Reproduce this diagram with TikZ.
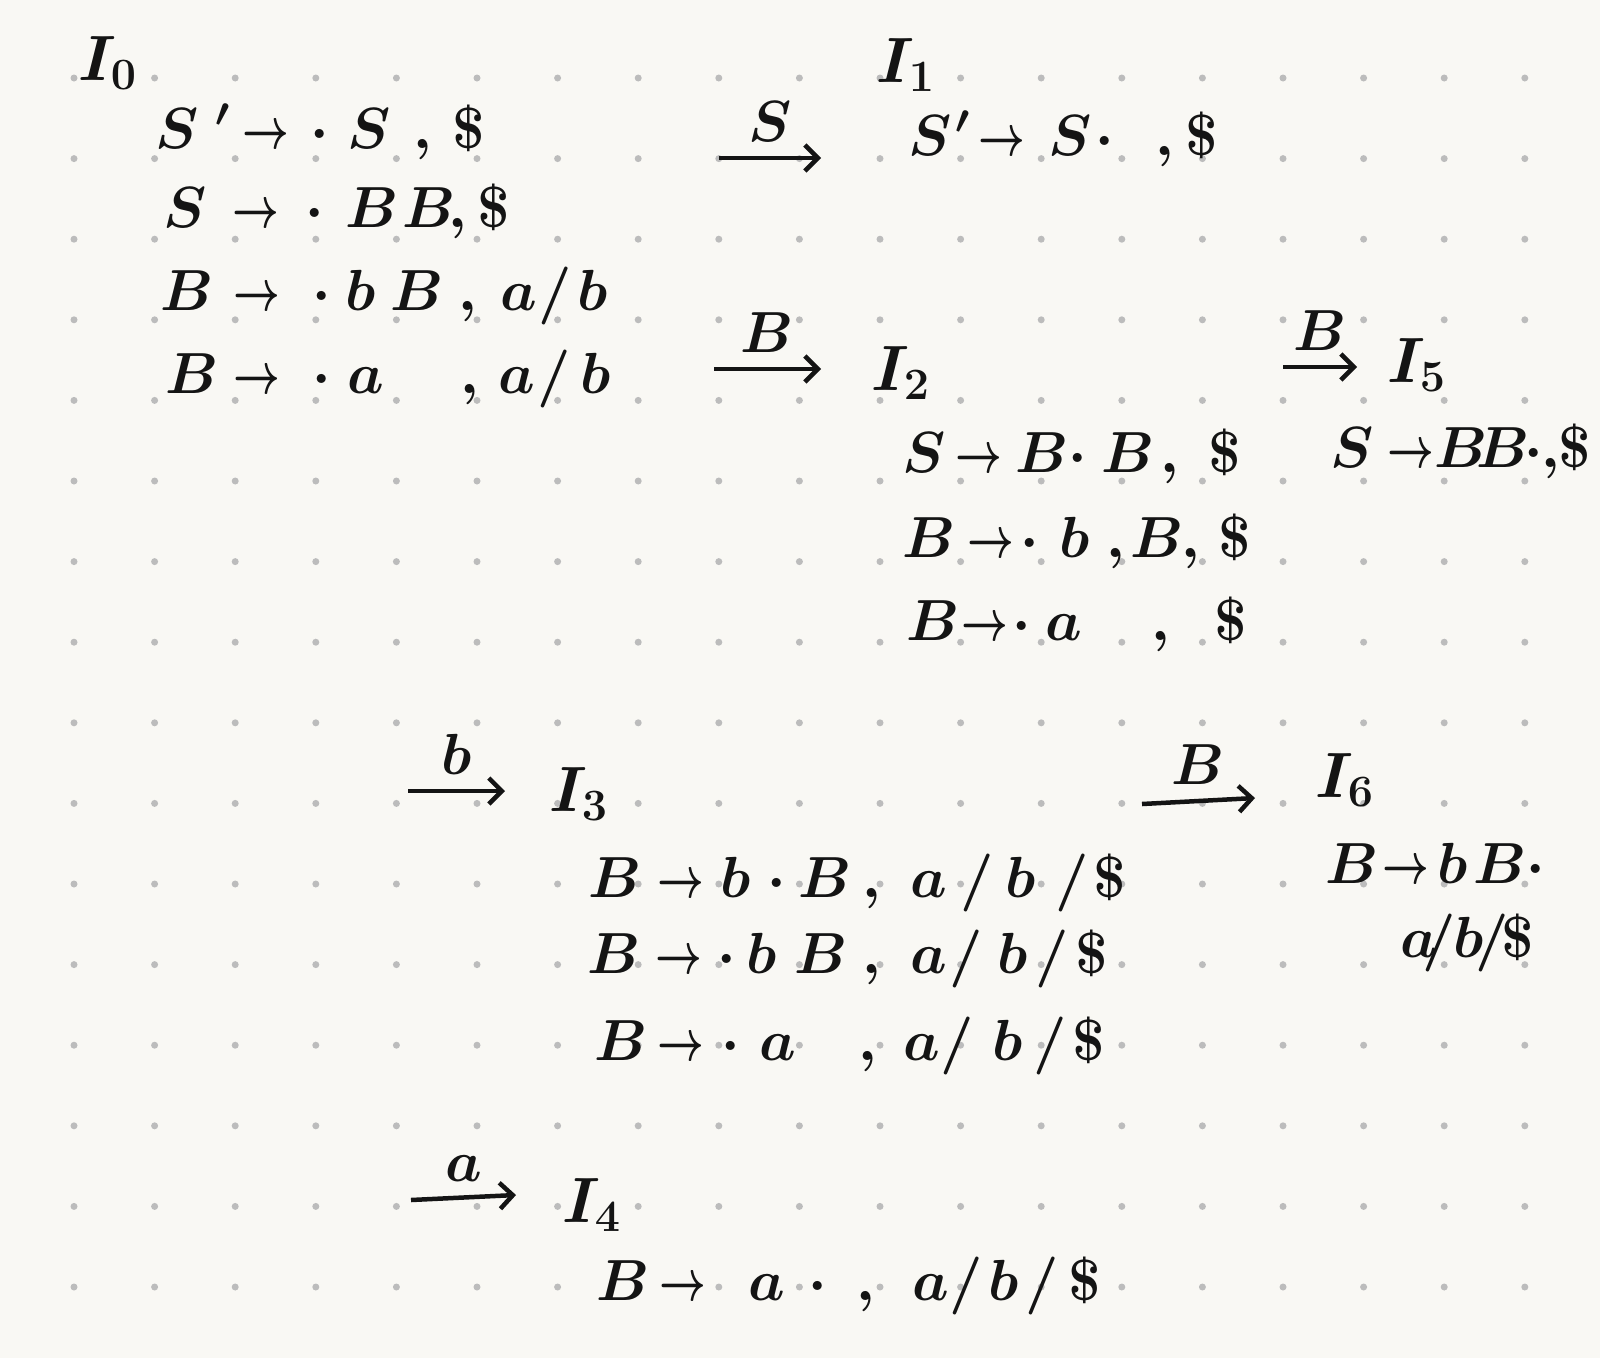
\RequirePackage{fix-cm}
\documentclass[tikz,border=0pt]{standalone}
\usepackage{graphicx}
\usetikzlibrary{arrows.meta}
\definecolor{paper}{RGB}{249,248,244}
\definecolor{dotgray}{RGB}{188,188,188}
\definecolor{ink}{RGB}{20,20,20}
% one symbol of an item, set at an offset from the start of its line
\newcommand\tk[2]{\makebox[0pt][l]{\hspace{#1pt}$#2$}}
\newcommand\yields{\scalebox{0.7}[1]{$\to$}}

\begin{document}
\begin{tikzpicture}[x=1pt,y=-1pt,>={Straight Barb[length=13pt,width=26pt]},
  trans/.style={->,line width=4.5pt,ink},
  lbl/.style={above=14pt,inner sep=0pt,font=\fontsize{58}{62}\selectfont\boldmath},
  item/.style={anchor=base west,inner sep=0pt,text=ink,font=\fontsize{58}{62}\selectfont\boldmath},
  setname/.style={item,font=\fontsize{64}{68}\selectfont\boldmath}]

  % paper and dot grid
  \fill[paper] (0,0) rectangle (1600,1358);
  \useasboundingbox (0,0) rectangle (1600,1358);
  \foreach \i in {0,...,18}
    \foreach \j in {0,...,15}
      \fill[dotgray] (74+80.6*\i,78+80.6*\j) circle[radius=3.5pt];

  % I0
  \node[setname] (I0) at (78,80) {$I_0$};
  \node[item] (i0a) at (155,148) {\tk{0}{S}\tk{60}{{}'}\tk{87}{\yields}\tk{155}{\cdot}\tk{192}{S}\tk{258}{,}\tk{297}{\$}};
  \node[item] (i0b) at (163,227) {\tk{0}{S}\tk{69}{\yields}\tk{142}{\cdot}\tk{182}{B}\tk{239}{B}\tk{285}{,}\tk{314}{\$}};
  \node[item] (i0c) at (160,310) {\tk{0}{B}\tk{73}{\yields}\tk{152}{\cdot}\tk{185}{b}\tk{230}{B}\tk{298}{,}\tk{340}{a}\tk{378}{/}\tk{417}{b}};
  \node[item] (i0d) at (165,393) {\tk{0}{B}\tk{68}{\yields}\tk{147}{\cdot}\tk{182}{a}\tk{295}{,}\tk{333}{a}\tk{372}{/}\tk{415}{b}};

  % I1
  \node[setname] (I1) at (876,82) {$I_1$};
  \node[item] (i1a) at (908,155) {\tk{0}{S}\tk{47}{{}'}\tk{70}{\yields}\tk{140}{S}\tk{187}{\cdot}\tk{247}{,}\tk{277}{\$}};

  % I2
  \node[setname] (I2) at (871,390) {$I_2$};
  \node[item] (i2a) at (902,472) {\tk{0}{S}\tk{53}{\yields}\tk{113}{B}\tk{166}{\cdot}\tk{199}{B}\tk{258}{,}\tk{306}{\$}};
  \node[item] (i2b) at (902,557) {\tk{0}{B}\tk{65}{\yields}\tk{118}{\cdot}\tk{157}{b}\tk{204}{,}\tk{228}{B}\tk{279}{,}\tk{316}{\$}};
  \node[item] (i2c) at (906,640) {\tk{0}{B}\tk{55}{\yields}\tk{106}{\cdot}\tk{139}{a}\tk{245}{,}\tk{308}{\$}};

  % I5
  \node[setname] (I5) at (1387,382) {$I_5$};
  \node[item] (i5a) at (1330,467) {\tk{0}{S}\tk{57}{\yields}\tk{104}{B}\tk{146}{B}\tk{194}{\cdot}\tk{211}{,}\tk{228}{\$}};

  % I3
  \node[setname] (I3) at (549,811) {$I_3$};
  \node[item] (i3a) at (588,897) {\tk{0}{B}\tk{69}{\yields}\tk{132}{b}\tk{179}{\cdot}\tk{210}{B}\tk{274}{,}\tk{322}{a}\tk{372}{/}\tk{417}{b}\tk{467}{/}\tk{505}{\$}};
  \node[item] (i3b) at (587,973) {\tk{0}{B}\tk{68}{\yields}\tk{130}{\cdot}\tk{159}{b}\tk{207}{B}\tk{275}{,}\tk{323}{a}\tk{362}{/}\tk{410}{b}\tk{448}{/}\tk{488}{\$}};
  \node[item] (i3c) at (594,1060) {\tk{0}{B}\tk{63}{\yields}\tk{127}{\cdot}\tk{165}{a}\tk{264}{,}\tk{309}{a}\tk{346}{/}\tk{398}{b}\tk{439}{/}\tk{478}{\$}};

  % I6
  \node[setname] (I6) at (1315,797) {$I_6$};
  \node[item] (i6a) at (1325,883) {\tk{0}{B}\tk{57}{\yields}\tk{112}{b}\tk{148}{B}\tk{201}{\cdot}};
  \node[item] (i6b) at (1400,957) {\tk{0}{a}\tk{22}{/}\tk{53}{b}\tk{75}{/}\tk{101}{\$}};

  % I4
  \node[setname] (I4) at (562,1222) {$I_4$};
  \node[item] (i4a) at (596,1300) {\tk{0}{B}\tk{63}{\yields}\tk{152}{a}\tk{212}{\cdot}\tk{260}{,}\tk{316}{a}\tk{353}{/}\tk{392}{b}\tk{429}{/}\tk{472}{\$}};

  % goto arrows
  \coordinate (gS0) at (719,158);  \coordinate (gS1) at (821,158);
  \coordinate (gB0) at (714,369);  \coordinate (gB1) at (821,369);
  \coordinate (gb0) at (408,791);  \coordinate (gb1) at (505,791);
  \coordinate (ga0) at (411,1200); \coordinate (ga1) at (516,1195);
  \coordinate (gBB0) at (1283,367); \coordinate (gBB1) at (1357,367);
  \coordinate (gbB0) at (1142,804); \coordinate (gbB1) at (1255,798);

  \draw[trans] (gS0) -- node[lbl] {$S$} (gS1);
  \draw[trans] (gB0) -- node[lbl] {$B$} (gB1);
  \draw[trans] (gb0) -- node[lbl] {$b$} (gb1);
  \draw[trans] (ga0) -- node[lbl] {$a$} (ga1);
  \draw[trans] (gBB0) -- node[lbl] {$B$} (gBB1);
  \draw[trans] (gbB0) -- node[lbl] {$B$} (gbB1);
\end{tikzpicture}
\end{document}
